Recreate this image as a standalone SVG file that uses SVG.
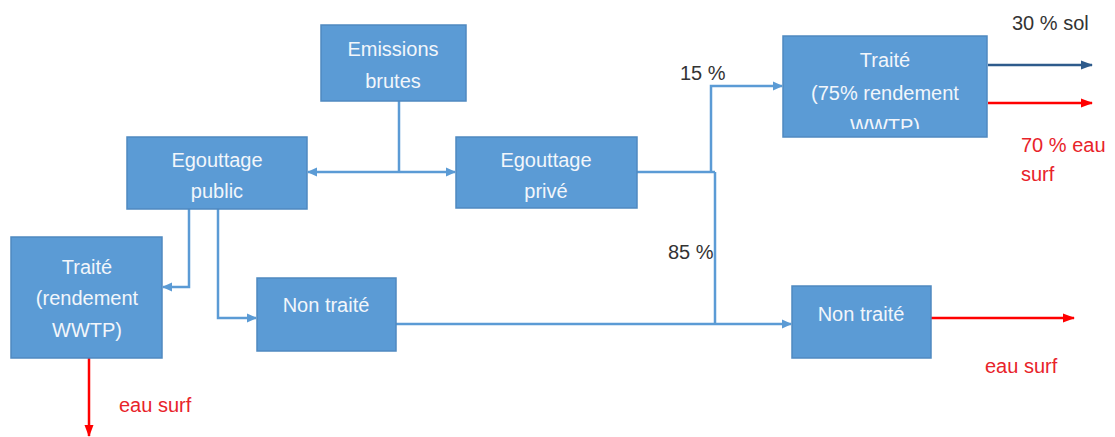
<svg xmlns="http://www.w3.org/2000/svg" width="1115" height="437" viewBox="0 0 1115 437">
<style>
.box{fill:#5B9BD5;stroke:#4F89C0;stroke-width:1.5}
.bt{font-family:"Liberation Sans",Arial,sans-serif;font-size:20px;fill:#F2F6FB;text-anchor:middle}
.lbl{font-family:"Liberation Sans",Arial,sans-serif;font-size:20px;fill:#333333}
.red{font-family:"Liberation Sans",Arial,sans-serif;font-size:20px;fill:#E8232A}
.ln{fill:none;stroke:#5B9BD5;stroke-width:2.5}
.lr{fill:none;stroke:#FF0000;stroke-width:2.5}
.ld{fill:none;stroke:#2E5B8C;stroke-width:2.5}
</style>
<defs>
<marker id="ab" markerWidth="10" markerHeight="10" refX="9" refY="5" orient="auto" markerUnits="userSpaceOnUse"><path d="M0,0.5 L10,5 L0,9.5 Z" fill="#5B9BD5"/></marker>
<marker id="ar" markerWidth="12" markerHeight="10" refX="11" refY="5" orient="auto" markerUnits="userSpaceOnUse"><path d="M0,0.5 L12,5 L0,9.5 Z" fill="#FF0000"/></marker>
<marker id="ad" markerWidth="12" markerHeight="10" refX="11" refY="5" orient="auto" markerUnits="userSpaceOnUse"><path d="M0,0.5 L12,5 L0,9.5 Z" fill="#2E5B8C"/></marker>
<clipPath id="clipT"><rect x="783" y="36" width="204" height="93"/></clipPath>
</defs>
<rect width="1115" height="437" fill="#FFFFFF"/>
<g id="connectors">
<path class="ln" d="M399,101 V172"/>
<path class="ln" d="M399,172 H308" marker-end="url(#ab)"/>
<path class="ln" d="M399,172 H455" marker-end="url(#ab)"/>
<path class="ln" d="M189,209 V287 H163" marker-end="url(#ab)"/>
<path class="ln" d="M218,209 V318 H256" marker-end="url(#ab)"/>
<path class="ln" d="M637,172 H715"/>
<path class="ln" d="M711,172 V86 H782" marker-end="url(#ab)"/>
<path class="ln" d="M715,172 V324"/>
<path class="ln" d="M396,324 H791" marker-end="url(#ab)"/>
<path class="ld" d="M988,65 H1092" marker-end="url(#ad)"/>
<path class="lr" d="M988,103 H1092" marker-end="url(#ar)"/>
<path class="lr" d="M931,318 H1074" marker-end="url(#ar)"/>
<path class="lr" d="M89,358 V436" marker-end="url(#ar)"/>
</g>
<g id="emissions">
<rect class="box" x="321" y="25" width="145" height="76"/>
<text class="bt" x="393" y="56">Emissions</text>
<text class="bt" x="393" y="88">brutes</text>
</g>
<g id="egouttage-public">
<rect class="box" x="127" y="137" width="180" height="72"/>
<text class="bt" x="217" y="167">Egouttage</text>
<text class="bt" x="217" y="198">public</text>
</g>
<g id="egouttage-prive">
<rect class="box" x="456" y="137" width="181" height="71"/>
<text class="bt" x="546" y="167">Egouttage</text>
<text class="bt" x="546" y="198">privé</text>
</g>
<g id="traite-75">
<rect class="box" x="783" y="36" width="204" height="101"/>
<text class="bt" x="885" y="67">Traité</text>
<text class="bt" x="885" y="100">(75% rendement</text>
<text class="bt" x="885" y="133" clip-path="url(#clipT)">WWTP)</text>
</g>
<g id="traite-public">
<rect class="box" x="11" y="237" width="151" height="121"/>
<text class="bt" x="87" y="274">Traité</text>
<text class="bt" x="87" y="305">(rendement</text>
<text class="bt" x="87" y="337">WWTP)</text>
</g>
<g id="non-traite-public">
<rect class="box" x="257" y="278" width="139" height="73"/>
<text class="bt" x="326" y="312">Non traité</text>
</g>
<g id="non-traite-final">
<rect class="box" x="792" y="286" width="139" height="72"/>
<text class="bt" x="861" y="321">Non traité</text>
</g>
<g id="labels">
<text class="lbl" x="680" y="80">15 %</text>
<text class="lbl" x="668" y="259">85 %</text>
<text class="lbl" x="1012" y="30">30 % sol</text>
<text class="red" x="1021" y="152">70 % eau</text>
<text class="red" x="1021" y="181">surf</text>
<text class="red" x="119" y="412">eau surf</text>
<text class="red" x="985" y="373">eau surf</text>
</g>
</svg>
